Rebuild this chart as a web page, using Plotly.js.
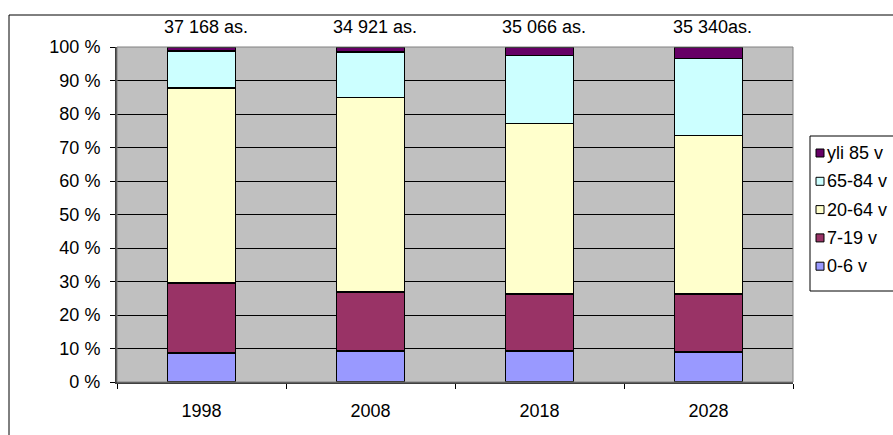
<!DOCTYPE html>
<html>
<head>
<meta charset="utf-8">
<script src="https://cdn.plot.ly/plotly-3.0.1.min.js"></script>
<style>
  html, body { margin: 0; padding: 0; background: #fff; }
  #chart { width: 893px; height: 435px; }
</style>
</head>
<body>
<div id="chart"></div>
<script>
// Age structure by year (share of population, %)
const years = ['1998', '2008', '2018', '2028'];
const totals = ['37 168 as.', '34 921 as.', '35 066 as.', '35 340as.'];

const age0_6   = [8.7, 9.2, 9.2, 8.9];
const age7_19  = [20.9, 17.6, 17.1, 17.3];
const age20_64 = [58.2, 58.2, 50.9, 47.4];
const age65_84 = [11.0, 13.5, 20.2, 23.0];
const age85    = [1.2, 1.5, 2.6, 3.4];

const seriesNames = ['0-6 v', '7-19 v', '20-64 v', '65-84 v', 'yli 85 v'];
const seriesValues = [age0_6, age7_19, age20_64, age65_84, age85];
const seriesColors = ['#9999FF', '#993366', '#FFFFCC', '#CCFFFF', '#660066'];

const yTicks = [0, 10, 20, 30, 40, 50, 60, 70, 80, 90, 100];

// Plot area geometry in pixels
const W = 893, H = 435;
const M = { l: 117, r: W - 793, t: 47, b: H - 382 };
const pw = W - M.l - M.r, ph = H - M.t - M.b;
const px = x => (x - M.l) / pw;           // pixel -> paper x
const py = y => (H - M.b - y) / ph;        // pixel -> paper y

const FONT = 'Liberation Sans, Arial, sans-serif';
const FS = 18;

const traces = seriesNames.map((name, i) => ({
  type: 'bar',
  name: name,
  x: years,
  y: seriesValues[i],
  width: 0.4,
  marker: { color: seriesColors[i], line: { color: '#000', width: 1.5 } },
  hoverinfo: 'x+y+name'
}));

const shapes = [
  // outer chart frame
  { type: 'rect', xref: 'paper', yref: 'paper', x0: px(9), x1: px(905), y0: py(445), y1: py(15),
    line: { color: '#000', width: 1 }, fillcolor: 'rgba(0,0,0,0)', layer: 'below' },
  // plot-area frame
  { type: 'rect', xref: 'paper', yref: 'paper', x0: 0, x1: 1, y0: 0, y1: 1,
    line: { color: '#808080', width: 1 }, fillcolor: 'rgba(0,0,0,0)', layer: 'above' },
  // legend box
  { type: 'rect', xref: 'paper', yref: 'paper', x0: px(810), x1: px(920), y0: py(291), y1: py(136),
    line: { color: '#000', width: 1 }, fillcolor: '#fff' }
];

// population totals above each bar (x given as category index)
const annotations = years.map((yr, i) => ({
  x: i, y: py(27), xref: 'x', yref: 'paper', text: totals[i], showarrow: false,
  xanchor: 'center', yanchor: 'middle', xshift: 4,
  font: { family: FONT, size: FS, color: '#000' }
}));

// legend entries, top to bottom: last series first
const legendOrder = seriesNames.map((_, i) => i).reverse();
legendOrder.forEach((idx, k) => {
  const cy = 153 + k * 28.3;
  shapes.push({
    type: 'rect', xref: 'paper', yref: 'paper',
    x0: px(816), x1: px(824), y0: py(cy + 4), y1: py(cy - 4),
    line: { color: '#000', width: 1 }, fillcolor: seriesColors[idx]
  });
  annotations.push({
    x: px(825), y: py(cy), xref: 'paper', yref: 'paper', text: seriesNames[idx],
    showarrow: false, xanchor: 'left', yanchor: 'middle',
    font: { family: FONT, size: FS, color: '#000' }
  });
});

const layout = {
  width: W, height: H,
  margin: { l: M.l, r: M.r, t: M.t, b: M.b, pad: 0, autoexpand: false },
  paper_bgcolor: '#fff',
  plot_bgcolor: '#C0C0C0',
  barmode: 'stack',
  showlegend: false,
  font: { family: FONT, size: FS, color: '#000' },
  xaxis: {
    type: 'category',
    categoryorder: 'array', categoryarray: years,
    range: [-0.5, years.length - 0.5],
    tickson: 'boundaries',
    ticks: 'outside', ticklen: 5, tickcolor: '#000', tickwidth: 1,
    ticklabelstandoff: 11,
    showline: true, linecolor: '#404040', linewidth: 2,
    showgrid: false, zeroline: false,
    tickfont: { family: FONT, size: FS, color: '#000' }
  },
  yaxis: {
    range: [0, 100],
    tickvals: yTicks,
    ticktext: yTicks.map(v => v + ' %'),
    ticks: 'outside', ticklen: 5, tickcolor: '#000', tickwidth: 1,
    ticklabelstandoff: 6,
    showline: true, linecolor: '#404040', linewidth: 2,
    showgrid: true, gridcolor: '#000', gridwidth: 1,
    zeroline: false,
    tickfont: { family: FONT, size: FS, color: '#000' }
  },
  shapes: shapes,
  annotations: annotations
};

Plotly.newPlot('chart', traces, layout, { displayModeBar: false, staticPlot: true });
</script>
</body>
</html>
